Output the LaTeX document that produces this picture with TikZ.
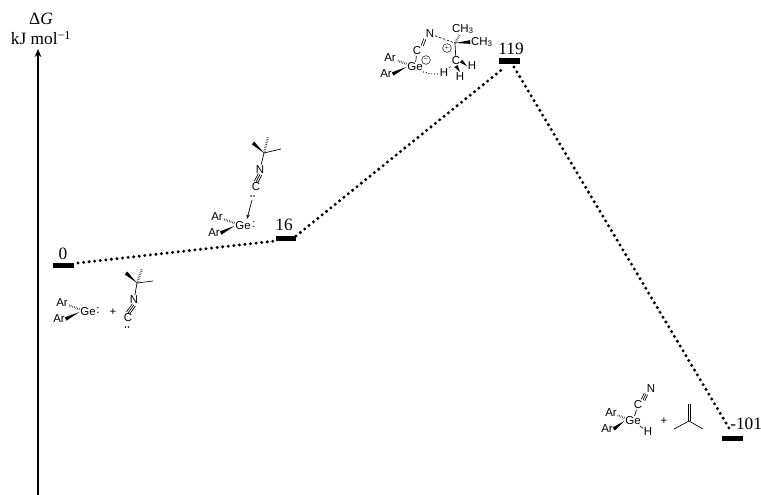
\documentclass[tikz,border=0pt]{standalone}
\usepackage{amsmath}
\usepackage{fontspec}
\usepackage{tikz}
\usetikzlibrary{calc,arrows.meta}
\setmainfont{Liberation Serif}
\newfontfamily\atomfont{Liberation Sans}
\tikzset{
	level/.style={fill=black,minimum width=15.5pt,minimum height=3.8pt,inner sep=0pt},
	energy/.style={font=\fontsize{13}{14}\selectfont,inner sep=0pt},
	path link/.style={line width=2.5pt,line cap=round,dash pattern=on 0pt off 4.2pt},
	atom/.style={font=\atomfont\fontsize{8.6}{9}\selectfont,inner sep=0.5pt},
	bond/.style={line width=0.5pt},
	hashbond/.style={line width=1.7pt,dash pattern=on 0.3pt off 1pt},
	dashbond/.style={line width=0.5pt,dash pattern=on 1.8pt off 1.3pt},
	dotbond/.style={line width=0.9pt,line cap=round,dash pattern=on 0pt off 2.1pt},
	lonepair/.style={line width=1.2pt,line cap=round,dash pattern=on 0pt off 2.24pt},
	charge/.style={circle,draw,line width=0.35pt,inner sep=0pt,minimum size=6.5pt,font=\fontsize{6}{6}\selectfont},
}
\newcommand{\wedgebond}[2]{\fill (#1) -- ($(#2)!1.4pt!90:(#1)$) -- ($(#2)!1.4pt!-90:(#1)$) -- cycle;}
\newcommand{\doublebond}[2]{
	\draw [bond] ($(#1)!0.8pt!90:(#2)$) -- ($(#2)!0.8pt!-90:(#1)$);
	\draw [bond] ($(#1)!0.8pt!-90:(#2)$) -- ($(#2)!0.8pt!90:(#1)$);
}
\newcommand{\triplebond}[2]{
	\draw [bond] (#1) -- (#2);
	\draw [bond] ($(#1)!1.4pt!90:(#2)$) -- ($(#2)!1.4pt!-90:(#1)$);
	\draw [bond] ($(#1)!1.4pt!-90:(#2)$) -- ($(#2)!1.4pt!90:(#1)$);
}
\begin{document}
\begin{tikzpicture}[x=0.75pt,y=-0.75pt]
	\useasboundingbox (0,0) rectangle (761,495);
	% axis
	\coordinate (axisfoot) at (38,495);
	\coordinate (axishead) at (38,49);
	\draw [line width=1.5pt,-{Stealth[length=6pt,width=5pt]}] (axisfoot) -- (axishead);
	\node [energy] (dg) at (41,19) {Δ\textit{G}};
	\node [energy] (unit) at (41,38) {kJ mol\textsuperscript{−1}};
	% levels
	\node [level] (lev0) at (63.5,265.5) {};
	\node [level] (lev16) at (286,238.5) {};
	\node [level] (lev119) at (509.5,61) {};
	\node [level] (lev101) at (732.5,438.5) {};
	\node [energy] (val0) at (63,254) {0};
	\node [energy] (val16) at (284,225) {16};
	\node [energy] (val119) at (511,49) {119};
	\node [energy,anchor=west] (val101) at (730,424) {-101};
	\coordinate (a1) at (78,263);
	\coordinate (a2) at (275,241);
	\coordinate (b1) at (296,236);
	\coordinate (b2) at (505,67);
	\coordinate (c1) at (514,67);
	\coordinate (c2) at (729,428);
	\draw [path link] (a1) -- (a2);
	\draw [path link] (b1) -- (b2);
	\draw [path link] (c1) -- (c2);
	% germylene + isocyanide
	\node [atom] (ra1) at (62,303) {Ar};
	\node [atom] (ra2) at (59,319) {Ar};
	\node [atom] (rge) at (88,312) {Ge};
	\node [atom] (rcolon) at (98,310.5) {:};
	\node [atom] (rplus) at (113,312) {+};
	\node [atom] (rc) at (128,318) {C};
	\node [atom] (rn) at (134,300) {N};
	\coordinate (rlp1) at (125.5,327);
	\coordinate (rlp2) at (129.5,327);
	\coordinate (rq) at (137,283);
	\coordinate (rm1) at (126,273);
	\coordinate (rm2) at (142,269);
	\coordinate (rm3) at (153,281);
	\draw [hashbond] (rge) -- (ra1);
	\wedgebond{rge.west}{ra2.east}
	\triplebond{rn.south}{rc.north}
	\draw [bond] (rq) -- (rn);
	\draw [bond] (rq) -- (rm3);
	\draw [hashbond] (rq) -- (rm2);
	\wedgebond{rq}{rm1}
	\draw [lonepair] (rlp1) -- (rlp2);
	% adduct
	\node [atom] (aa1) at (217,217) {Ar};
	\node [atom] (aa2) at (214,233) {Ar};
	\node [atom] (age) at (243,226) {Ge};
	\node [atom] (acolon) at (254,224.5) {:};
	\node [atom] (ac) at (256,187) {C};
	\node [atom] (an) at (260,169.5) {N};
	\coordinate (alp1) at (251,196);
	\coordinate (alp2) at (255,196);
	\coordinate (aq) at (264,153);
	\coordinate (am1) at (253,143);
	\coordinate (am2) at (268,137);
	\coordinate (am3) at (281,149);
	\coordinate (atail) at (252,200);
	\coordinate (atip) at (247,219);
	\draw [hashbond] (age) -- (aa1);
	\wedgebond{age.west}{aa2.east}
	\triplebond{an.south}{ac.north}
	\draw [bond] (aq) -- (an);
	\draw [bond] (aq) -- (am3);
	\draw [hashbond] (aq) -- (am2);
	\wedgebond{aq}{am1}
	\draw [lonepair] (alp1) -- (alp2);
	\draw [bond,-{Stealth[length=3.6pt,width=2.6pt]}] (atail) -- (atip);
	% transition state
	\node [atom] (ta1) at (390,58) {Ar};
	\node [atom] (ta2) at (386,74) {Ar};
	\node [atom] (tge) at (415,67) {Ge};
	\node [atom] (tc) at (417,51) {C};
	\node [atom] (tn) at (430,34) {N};
	\node [atom] (th1) at (444,73) {H};
	\node [atom] (tch) at (456,61) {C};
	\node [atom] (th2) at (472,66) {H};
	\node [atom] (th3) at (460,77) {H};
	\node [atom] (tme1) at (463,29) {CH\textsubscript{3}};
	\node [atom] (tme2) at (482,42) {CH\textsubscript{3}};
	\node [charge] (tminus) at (426,60) {−};
	\node [charge] (tplus) at (447,48) {+};
	\coordinate (tq) at (455,43);
	\draw [hashbond] (tge) -- (ta1);
	\wedgebond{tge.west}{ta2.east}
	\draw [bond] (tge) -- (tc);
	\doublebond{tc.north east}{tn.south west}
	\draw [dashbond] (tn) -- (tq);
	\draw [bond] (tq) -- (tch);
	\draw [hashbond] (tq) -- (tme1);
	\wedgebond{tq}{tme2.west}
	\draw [dotbond] (tge.south east) to [bend right=12] (th1);
	\draw [dashbond] (th1) -- (tch);
	\wedgebond{th2.west}{tch.east}
	\wedgebond{th3.north}{tch.south}
	% products
	\node [atom] (pa1) at (611,413) {Ar};
	\node [atom] (pa2) at (607,429) {Ar};
	\node [atom] (pge) at (633,421) {Ge};
	\node [atom] (ph) at (648,432) {H};
	\node [atom] (pc) at (638,405) {C};
	\node [atom] (pn) at (651,389) {N};
	\node [atom] (pplus) at (664,421) {+};
	\coordinate (pi0) at (689,421);
	\coordinate (pi1) at (689,404);
	\coordinate (pi2) at (674,429);
	\coordinate (pi3) at (703,429);
	\draw [hashbond] (pge) -- (pa1);
	\wedgebond{pge.west}{pa2.east}
	\draw [bond] (pge) -- (ph);
	\draw [bond] (pge) -- (pc);
	\triplebond{pc.north east}{pn.south west}
	\doublebond{pi0}{pi1}
	\draw [bond] (pi0) -- (pi2);
	\draw [bond] (pi0) -- (pi3);
\end{tikzpicture}
\end{document}
